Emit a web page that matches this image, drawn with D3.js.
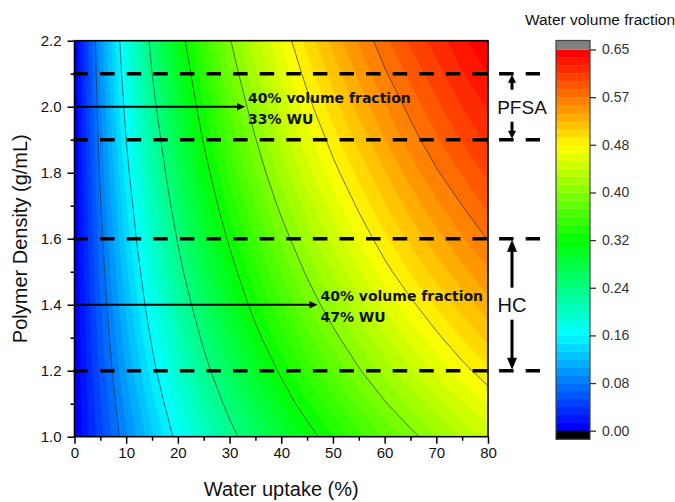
<!DOCTYPE html>
<html><head><meta charset="utf-8">
<script src="https://cdn.jsdelivr.net/npm/d3@7"></script>
<style>body{margin:0;background:#fff} svg{display:block}</style>
</head><body><svg id="c" width="675" height="502"></svg>
<script>
// ---------- data ----------
const waterUptake = [0,5,10,15,20,25,30,35,40,45,50,55,60,65,70,75,80];
const densities = [1.0,1.1,1.2,1.3,1.4,1.5,1.6,1.7,1.8,1.9,2.0,2.1,2.2];
// water volume fraction, one row per density, one column per water uptake
const vf_1_0 = [0,.048,.091,.130,.167,.200,.231,.259,.286,.310,.333,.355,.375,.394,.412,.429,.444];
const vf_1_1 = [0,.052,.099,.142,.180,.216,.248,.278,.306,.331,.355,.377,.398,.417,.435,.452,.468];
const vf_1_2 = [0,.057,.107,.153,.194,.231,.265,.296,.324,.351,.375,.398,.419,.438,.457,.474,.490];
const vf_1_3 = [0,.061,.115,.163,.206,.245,.281,.313,.342,.369,.394,.417,.438,.458,.476,.494,.510];
const vf_1_4 = [0,.065,.123,.174,.219,.259,.296,.329,.359,.387,.412,.435,.457,.476,.495,.512,.528];
const vf_1_5 = [0,.070,.130,.184,.231,.273,.310,.344,.375,.403,.429,.452,.474,.494,.512,.529,.545];
const vf_1_6 = [0,.074,.138,.194,.242,.286,.324,.359,.390,.419,.444,.468,.490,.510,.528,.545,.561];
const vf_1_7 = [0,.078,.145,.203,.254,.298,.338,.373,.405,.433,.459,.483,.505,.525,.543,.560,.576];
const vf_1_8 = [0,.083,.153,.213,.265,.310,.351,.387,.419,.448,.474,.497,.519,.539,.558,.574,.590];
const vf_1_9 = [0,.087,.160,.222,.275,.322,.363,.399,.432,.461,.487,.511,.533,.553,.571,.588,.603];
const vf_2_0 = [0,.091,.167,.231,.286,.333,.375,.412,.444,.474,.500,.524,.545,.565,.583,.600,.615];
const vf_2_1 = [0,.095,.174,.240,.296,.344,.387,.424,.457,.486,.512,.536,.558,.577,.595,.612,.627];
const vf_2_2 = [0,.099,.180,.248,.306,.355,.398,.435,.468,.498,.524,.548,.569,.589,.606,.623,.638];
const volumeFraction = [vf_1_0,vf_1_1,vf_1_2,vf_1_3,vf_1_4,vf_1_5,vf_1_6,vf_1_7,vf_1_8,vf_1_9,vf_2_0,vf_2_1,vf_2_2];

const lineLevels = [0.08,0.16,0.24,0.32,0.40,0.48,0.56];
const colorbarTicks = [0,0.08,0.16,0.24,0.32,0.40,0.48,0.56,0.64];
const colorbarLabels = ["0.00","0.08","0.16","0.24","0.32","0.40","0.48","0.57","0.65"];
const bandsPerTick = 6;
const xTicks = [0,10,20,30,40,50,60,70,80];
const yTicks = [1.0,1.2,1.4,1.6,1.8,2.0,2.2];
const guideDensities = [2.1,1.9,1.6,1.2];
const annotations = [
  {rho:2.0, wu:33, lines:["40% volume fraction","33% WU"]},
  {rho:1.4, wu:47, lines:["40% volume fraction","47% WU"]}
];
const groups = [
  {name:"PFSA", lo:1.9, hi:2.1},
  {name:"HC", lo:1.2, hi:1.6}
];

// ---------- layout ----------
const svg = d3.select("#c");
const L = 74.5, R = 488, T = 40.7, B = 436.7;
const FONT = "'Liberation Sans', Arial, sans-serif";
const x = d3.scaleLinear().domain([0,80]).range([L,R]);
const y = d3.scaleLinear().domain([1.0,2.2]).range([B,T]);

const palette = d3.scaleLinear()
  .domain([0,0.16,0.32,0.48,0.64])
  .range(["#0000ff","#00ffff","#00ff00","#ffff00","#ff0000"]);
const nBands = bandsPerTick*(colorbarTicks.length-1);
const step = colorbarTicks[colorbarTicks.length-1]/nBands;
const thresholds = d3.range(nBands).map(i=>i*step);
const bandColor = i => palette(i*colorbarTicks[colorbarTicks.length-1]/(nBands-1));

// ---------- contour field ----------
const nx = waterUptake.length, ny = densities.length;
const values = [];
for (let j=0;j<ny;j++) for (let i=0;i<nx;i++) values.push(volumeFraction[j][i]);
const gx = d3.scaleLinear().domain([0.5,nx-0.5]).range([waterUptake[0],waterUptake[nx-1]]);
const gy = d3.scaleLinear().domain([0.5,ny-0.5]).range([densities[0],densities[ny-1]]);
const proj = d3.geoTransform({point(px,py){ this.stream.point(x(gx(px)), y(gy(py))); }});
const path = d3.geoPath(proj);

svg.append("defs").append("clipPath").attr("id","plotclip")
  .append("rect").attr("x",L).attr("y",T).attr("width",R-L).attr("height",B-T);

const field = svg.append("g").attr("clip-path","url(#plotclip)");
field.append("rect").attr("x",L).attr("y",T).attr("width",R-L).attr("height",B-T).attr("fill",bandColor(0));
const bands = d3.contours().size([nx,ny]).thresholds(thresholds)(values);
field.selectAll("path.band").data(bands).join("path").attr("class","band")
  .attr("d",path).attr("fill",(d,i)=>bandColor(i)).attr("stroke",(d,i)=>bandColor(i)).attr("stroke-width",0.4);
const isolines = d3.contours().size([nx,ny]).thresholds(lineLevels)(values);
field.selectAll("path.iso").data(isolines).join("path").attr("class","iso")
  .attr("d",path).attr("fill","none").attr("stroke","#333").attr("stroke-opacity",0.75).attr("stroke-width",0.9);

// ---------- axes ----------
const ax = svg.append("g").attr("font-family",FONT);
const xAxis = d3.axisBottom(x).tickValues(xTicks).tickSize(7).tickPadding(4).tickFormat(d3.format("d"));
const xMinor = d3.axisBottom(x).tickValues(d3.range(5,80,10)).tickSize(4).tickFormat("");
const yAxis = d3.axisLeft(y).tickValues(yTicks).tickSize(7).tickPadding(6).tickFormat(d3.format(".1f"));
const yMinor = d3.axisLeft(y).tickValues(d3.range(1.1,2.2,0.2)).tickSize(4).tickFormat("");
function styleAxis(g){
  g.select(".domain").remove();
  g.selectAll(".tick line").attr("stroke","#000").attr("stroke-width",1.5);
  g.selectAll(".tick text").attr("fill","#111").attr("font-size",15).attr("font-family",FONT);
}
ax.append("g").attr("transform",`translate(0,${B})`).call(xAxis).call(styleAxis);
ax.append("g").attr("transform",`translate(0,${B})`).call(xMinor).call(styleAxis);
ax.append("g").attr("transform",`translate(${L},0)`).call(yAxis).call(styleAxis);
ax.append("g").attr("transform",`translate(${L},0)`).call(yMinor).call(styleAxis);
svg.append("rect").attr("x",L).attr("y",T).attr("width",R-L).attr("height",B-T)
  .attr("fill","none").attr("stroke","#000").attr("stroke-width",1.6);

svg.append("text").attr("x",(L+R)/2).attr("y",496).attr("text-anchor","middle")
  .attr("font-family",FONT).attr("font-size",20).attr("fill","#111").text("Water uptake (%)");
svg.append("text").attr("transform",`translate(27,${(T+B)/2}) rotate(-90)`).attr("text-anchor","middle")
  .attr("font-family",FONT).attr("font-size",20).attr("fill","#111").text("Polymer Density (g/mL)");

// ---------- guide lines ----------
svg.append("g").selectAll("line").data(guideDensities).join("line")
  .attr("x1",L-1).attr("x2",540).attr("y1",d=>y(d)).attr("y2",d=>y(d))
  .attr("stroke","#000").attr("stroke-width",3.6).attr("stroke-dasharray","14.5,12.1");

// ---------- annotations ----------
const ann = svg.append("g");
annotations.forEach(a=>{
  const yy = y(a.rho), tip = x(a.wu);
  ann.append("line").attr("x1",L).attr("x2",tip-6).attr("y1",yy).attr("y2",yy).attr("stroke","#000").attr("stroke-width",2);
  ann.append("path").attr("d",`M${tip},${yy} L${tip-8},${yy-3.8} L${tip-8},${yy+3.8} Z`).attr("fill","#000");
  a.lines.forEach((t,k)=>{
    ann.append("text").attr("x",tip+3).attr("y",yy-4+k*21)
      .attr("font-family","'DejaVu Sans', sans-serif").attr("font-weight","bold").attr("font-size",14)
      .attr("fill","#111").text(t);
  });
});

// ---------- group brackets ----------
const AX = 512;
function vArrow(yTail, yTip, hl, hw){
  const dir = yTip < yTail ? -1 : 1;
  ann.append("line").attr("x1",AX).attr("x2",AX).attr("y1",yTail).attr("y2",yTip-dir*hl+dir*1).attr("stroke","#000").attr("stroke-width",3);
  ann.append("path").attr("d",`M${AX},${yTip} L${AX-hw/2},${yTip-dir*hl} L${AX+hw/2},${yTip-dir*hl} Z`).attr("fill","#000");
}
groups.forEach(g=>{
  const yHi = y(g.hi), yLo = y(g.lo), mid = (yHi+yLo)/2;
  const span = yLo-yHi;
  if (span < 80) {
    vArrow(mid-17, yHi+1, 8, 8);
    vArrow(mid+15, yLo-1, 8, 8);
    ann.append("text").attr("x",AX+10).attr("y",mid+7).attr("text-anchor","middle")
      .attr("font-family",FONT).attr("font-size",19).attr("fill","#111").text(g.name);
  } else {
    vArrow(mid-17, yHi+1, 12, 10);
    vArrow(mid+15, yLo-1, 12, 10);
    ann.append("text").attr("x",AX).attr("y",mid+7).attr("text-anchor","middle")
      .attr("font-family",FONT).attr("font-size",20).attr("fill","#111").text(g.name);
  }
});

// ---------- colorbar ----------
const CX = 556, CW = 34;
const cb = d3.scaleLinear().domain([0,colorbarTicks[colorbarTicks.length-1]]).range([430.7,49.5]);
const cbg = svg.append("g");
cbg.selectAll("rect.cb").data(thresholds).join("rect").attr("class","cb")
  .attr("x",CX).attr("width",CW)
  .attr("y",(d,i)=>cb(d+step)).attr("height",(d,i)=>cb(d)-cb(d+step)+0.3)
  .attr("fill",(d,i)=>bandColor(i));
cbg.append("rect").attr("x",CX).attr("width",CW).attr("y",40.5).attr("height",cb(colorbarTicks[colorbarTicks.length-1])-40.5).attr("fill","#808080");
cbg.append("rect").attr("x",CX).attr("width",CW).attr("y",cb(0)).attr("height",439.3-cb(0)).attr("fill","#000");
cbg.append("rect").attr("x",CX).attr("width",CW).attr("y",40.5).attr("height",439.3-40.5)
  .attr("fill","none").attr("stroke","#444").attr("stroke-width",1.2);
const cbAxis = d3.axisRight(cb).tickValues(colorbarTicks).tickSize(6).tickPadding(6)
  .tickFormat((d,i)=>colorbarLabels[i]);
cbg.append("g").attr("transform",`translate(${CX+CW},0)`).call(cbAxis).call(g=>{
  g.select(".domain").remove();
  g.selectAll(".tick line").attr("stroke","#333").attr("stroke-width",1.3);
  g.selectAll(".tick text").attr("fill","#333").attr("font-size",14).attr("font-family",FONT);
});
svg.append("text").attr("x",600).attr("y",25).attr("text-anchor","middle")
  .attr("font-family",FONT).attr("font-size",15.5).attr("fill","#111").text("Water volume fraction");
</script></body></html>
